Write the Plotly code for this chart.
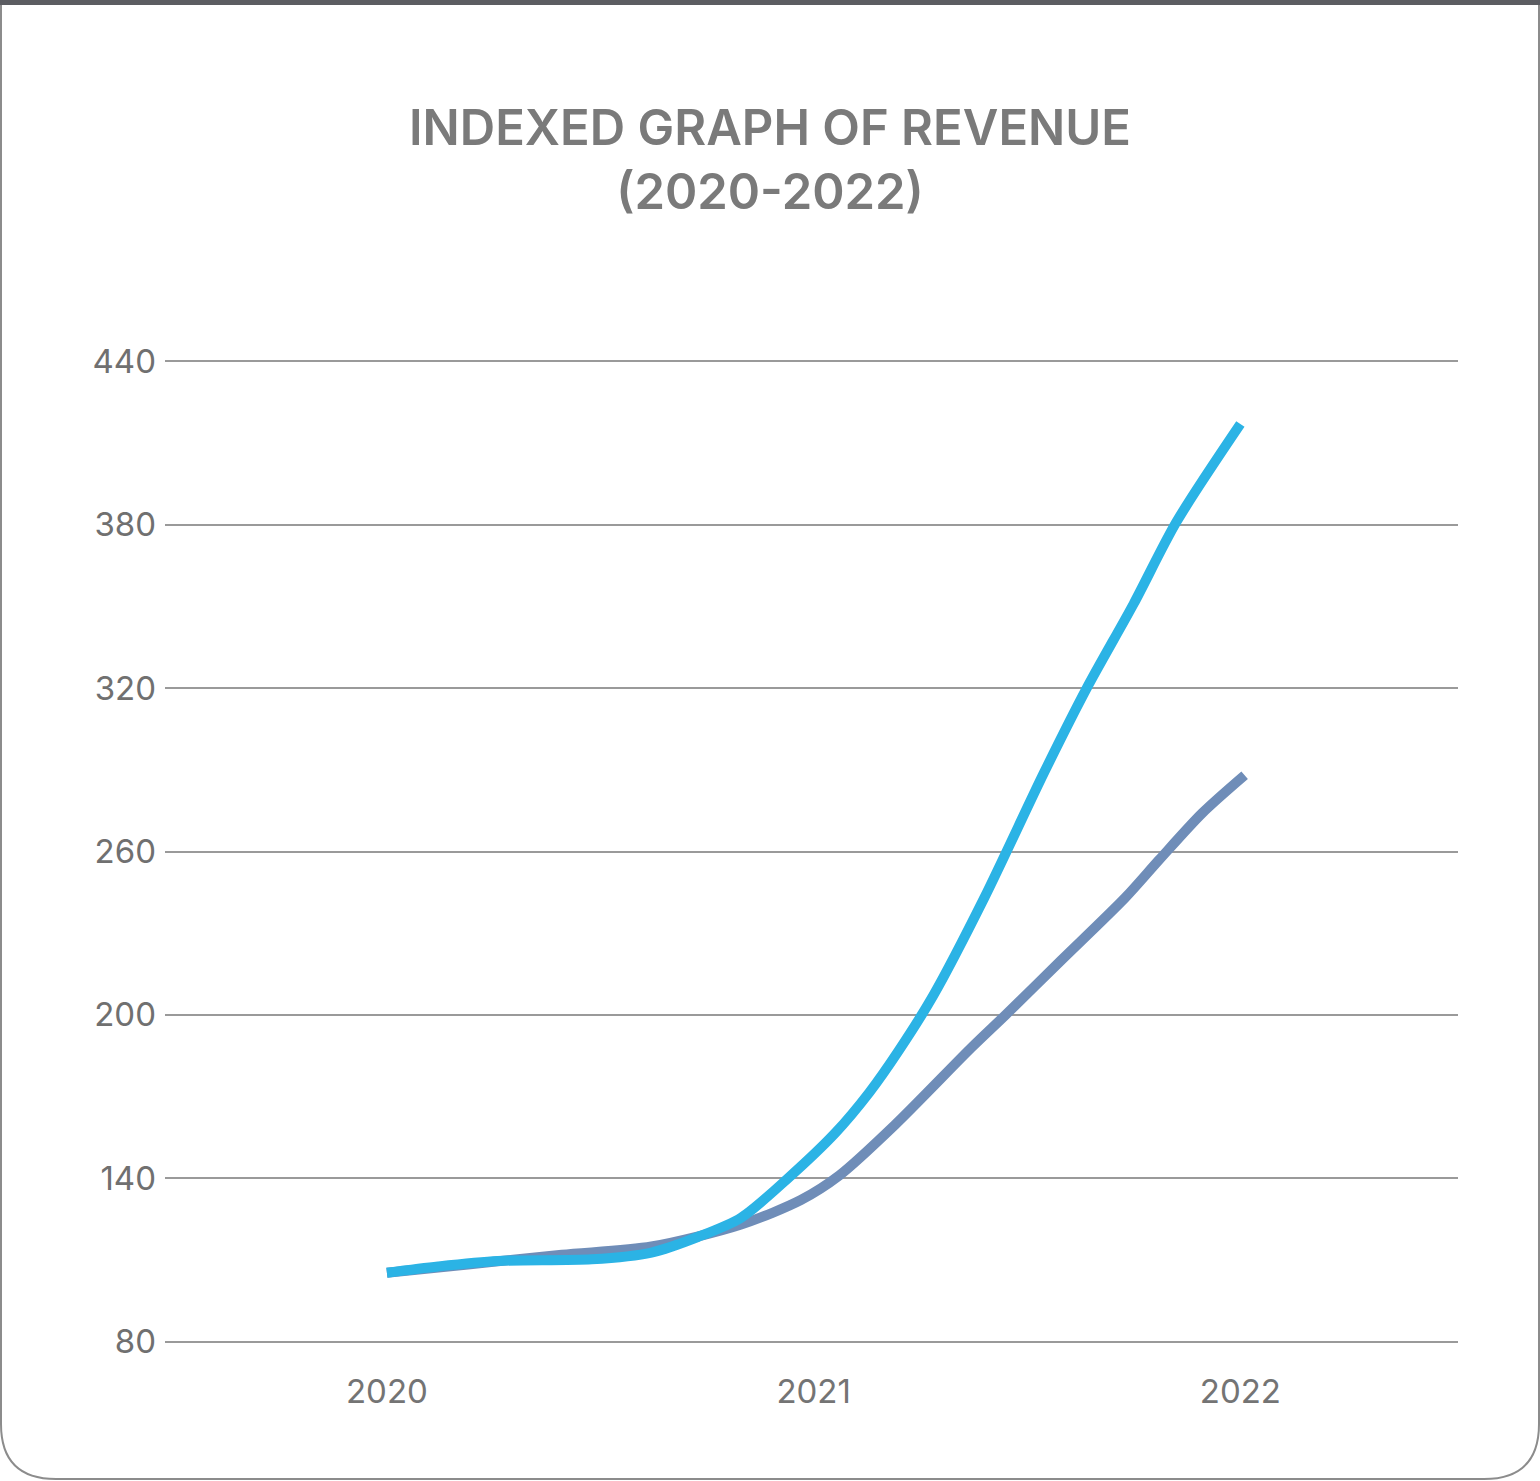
import plotly.graph_objects as go

# Indexed revenue, base period = 2020 (decimal-year positions along the time axis)
blue_x = [2020.00, 2020.12, 2020.26, 2020.48, 2020.62, 2020.73, 2020.83, 2020.94,
          2021.05, 2021.13, 2021.20, 2021.28, 2021.40, 2021.54, 2021.64, 2021.75,
          2021.85, 2022.00]
blue_y = [105.3, 107.6, 109.6, 110.2, 112.7, 118.5, 125.5, 140.0,
          156.5, 171.4, 187.0, 207.0, 243.0, 289.0, 320.0, 351.0,
          381.0, 417.0]

slate_x = [2020.00, 2020.19, 2020.41, 2020.62, 2020.83, 2020.97, 2021.06, 2021.19,
           2021.37, 2021.45, 2021.58, 2021.73, 2021.81, 2021.91, 2022.01]
slate_y = [105.3, 108.3, 111.9, 114.9, 123.0, 132.0, 141.0, 159.5,
           188.0, 200.0, 220.0, 243.0, 257.0, 274.0, 288.0]

year_ticks = [2020, 2021, 2022]
year_labels = ["2020", "2021", "2022"]
index_ticks = [80, 140, 200, 260, 320, 380, 440]

W, H = 1540, 1481
L, R, T, B = 165, 82, 356, 134
pw, ph = W - L - R, H - T - B


def px(x):
    return (x - L) / pw


def py(y):
    return 1 - (y - T) / ph


fig = go.Figure()
fig.add_trace(go.Scatter(x=slate_x, y=slate_y, mode="lines",
                         line=dict(color="#6f8db8", width=10, shape="spline", smoothing=0.8),
                         hoverinfo="x+y", showlegend=False))
fig.add_trace(go.Scatter(x=blue_x, y=blue_y, mode="lines",
                         line=dict(color="#2bb3e5", width=10, shape="spline", smoothing=0.8),
                         hoverinfo="x+y", showlegend=False))

# card outline with rounded bottom corners
rad = 55
card = (f"M {px(1)},{py(0)} L {px(1)},{py(1479 - rad)} "
        f"Q {px(1)},{py(1479)} {px(1 + rad)},{py(1479)} "
        f"L {px(1539 - rad)},{py(1479)} "
        f"Q {px(1539)},{py(1479)} {px(1539)},{py(1479 - rad)} "
        f"L {px(1539)},{py(0)}")
shapes = [
    dict(type="path", xref="paper", yref="paper", path=card,
         line=dict(color="#8c8c8c", width=2), fillcolor="white", layer="below"),
    dict(type="rect", xref="paper", yref="paper", x0=px(0), x1=px(W), y0=py(0), y1=py(5),
         line=dict(width=0), fillcolor="#5c5d62", layer="above"),
]

fig.update_layout(
    width=W, height=H,
    margin=dict(l=L, r=R, t=T, b=B),
    paper_bgcolor="white", plot_bgcolor="rgba(0,0,0,0)",
    shapes=shapes,
    title=dict(text="INDEXED GRAPH OF REVENUE<br>(2020-2022)",
               x=0.5, xref="container", y=1 - 145 / H, yref="container",
               xanchor="center", yanchor="middle",
               font=dict(family="Inter", size=49, color="#7a7a7a", weight=600)),
    font=dict(family="Inter", color="#707070"),
    xaxis=dict(range=[2019.48, 2022.51], tickvals=year_ticks, ticktext=year_labels,
               showgrid=False, zeroline=False, showline=False,
               tickfont=dict(size=33, color="#747474"), ticklabelstandoff=22),
    yaxis=dict(range=[78, 442], tickvals=index_ticks, showgrid=True,
               gridcolor="#9a9a9a", gridwidth=1.5, zeroline=False, showline=False,
               tickfont=dict(size=33, color="#707070"), ticklabelstandoff=8),
)

fig.write_html("out.html")
